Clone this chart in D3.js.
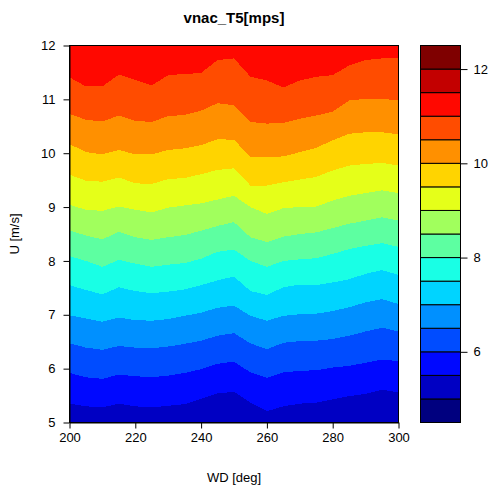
<!DOCTYPE html>
<html>
<head>
<meta charset="utf-8">
<script src="https://cdn.jsdelivr.net/npm/d3@7"></script>
<style>
  body { margin: 0; background: #fff; }
  svg { font-family: "Liberation Sans", Arial, Helvetica, sans-serif; }
</style>
</head>
<body>
<div id="chart"></div>
<script>
// wind direction columns [deg]
const wd = [200, 205, 210, 215, 220, 225, 230, 235, 240, 245, 250, 255, 260, 265, 270, 275, 280, 285, 290, 295, 300];

// U [m/s] where vnac crosses each contour level, one value per wd column
const u55  = [5.35, 5.30, 5.28, 5.35, 5.30, 5.28, 5.31, 5.34, 5.44, 5.54, 5.57, 5.37, 5.21, 5.30, 5.35, 5.37, 5.43, 5.49, 5.53, 5.61, 5.56];
const u60  = [5.92, 5.84, 5.81, 5.89, 5.86, 5.84, 5.87, 5.92, 5.99, 6.09, 6.13, 5.93, 5.83, 5.93, 5.96, 5.97, 6.02, 6.05, 6.11, 6.17, 6.14];
const u65  = [6.47, 6.39, 6.35, 6.42, 6.39, 6.38, 6.41, 6.46, 6.52, 6.61, 6.66, 6.47, 6.36, 6.48, 6.51, 6.52, 6.55, 6.61, 6.69, 6.76, 6.69];
const u70  = [6.99, 6.93, 6.87, 6.95, 6.90, 6.89, 6.92, 6.98, 7.04, 7.13, 7.17, 6.98, 6.89, 6.98, 7.01, 7.02, 7.07, 7.14, 7.23, 7.29, 7.20];
const u75  = [7.55, 7.46, 7.38, 7.51, 7.44, 7.40, 7.43, 7.47, 7.55, 7.64, 7.71, 7.44, 7.37, 7.51, 7.56, 7.55, 7.60, 7.66, 7.76, 7.83, 7.74];
const u80  = [8.09, 8.00, 7.89, 8.02, 7.95, 7.89, 7.93, 7.96, 8.04, 8.17, 8.21, 8.00, 7.89, 8.00, 8.03, 8.05, 8.13, 8.22, 8.28, 8.33, 8.26];
const u85  = [8.57, 8.47, 8.40, 8.54, 8.44, 8.39, 8.44, 8.48, 8.56, 8.65, 8.72, 8.44, 8.35, 8.45, 8.50, 8.53, 8.61, 8.69, 8.75, 8.81, 8.75];
const u90  = [9.04, 8.95, 8.93, 9.01, 8.95, 8.90, 8.99, 9.03, 9.07, 9.14, 9.21, 9.00, 8.87, 8.98, 9.00, 9.01, 9.12, 9.21, 9.26, 9.31, 9.26];
const u95  = [9.60, 9.49, 9.47, 9.55, 9.44, 9.43, 9.52, 9.54, 9.61, 9.69, 9.72, 9.40, 9.40, 9.46, 9.51, 9.56, 9.68, 9.77, 9.80, 9.82, 9.77];
const u100 = [10.17, 10.02, 9.98, 10.06, 9.98, 9.98, 10.06, 10.09, 10.15, 10.26, 10.25, 9.93, 9.93, 9.94, 10.02, 10.10, 10.24, 10.36, 10.39, 10.39, 10.35];
const u105 = [10.73, 10.62, 10.59, 10.70, 10.60, 10.58, 10.69, 10.71, 10.79, 10.93, 10.89, 10.58, 10.55, 10.56, 10.64, 10.70, 10.77, 10.98, 11.01, 11.01, 10.98];
const u110 = [11.41, 11.24, 11.24, 11.46, 11.36, 11.26, 11.45, 11.47, 11.49, 11.73, 11.76, 11.42, 11.35, 11.22, 11.35, 11.42, 11.45, 11.63, 11.73, 11.76, 11.76];

// contour levels of the lines above, in the same order
const lineLevels = [5.5, 6, 6.5, 7, 7.5, 8, 8.5, 9, 9.5, 10, 10.5, 11];
const boundaries = [u55, u60, u65, u70, u75, u80, u85, u90, u95, u100, u105, u110];

// colour key levels and ticks
const keyLevels = [4.5, 5, 5.5, 6, 6.5, 7, 7.5, 8, 8.5, 9, 9.5, 10, 10.5, 11, 11.5, 12, 12.5];
const keyTicks = [6, 8, 10, 12];
const xTicks = [200, 220, 240, 260, 280, 300];
const yTicks = [5, 6, 7, 8, 9, 10, 11, 12];

const width = 495, height = 493;

// jet colour ramp, 16 colours like R's colorRampPalette
const jetAnchors = ["#00007F", "#0000FF", "#007FFF", "#00FFFF", "#7FFF7F", "#FFFF00", "#FF7F00", "#FF0000", "#7F0000"];
const ramp = d3.scaleLinear()
  .domain(jetAnchors.map((c, i) => i / (jetAnchors.length - 1)))
  .range(jetAnchors)
  .interpolate(d3.interpolateRgb);
const nCol = keyLevels.length - 1;
const colors = d3.range(nCol).map(i => ramp(i / (nCol - 1)));
const colorFor = lo => colors[keyLevels.indexOf(lo)];

const svg = d3.select("#chart").append("svg")
  .attr("width", width)
  .attr("height", height);

// scales
const x = d3.scaleLinear().domain([200, 300]).range([69.5, 398.5]);
const y = d3.scaleLinear().domain([5, 12]).range([422.5, 45.5]);

svg.append("clipPath").attr("id", "plotclip")
  .append("rect")
  .attr("x", x(200)).attr("y", y(12))
  .attr("width", x(300) - x(200)).attr("height", y(5) - y(12));

const plot = svg.append("g").attr("clip-path", "url(#plotclip)");

// lowest band fills the whole panel first
plot.append("rect")
  .attr("x", x(200)).attr("y", y(12))
  .attr("width", x(300) - x(200)).attr("height", y(5) - y(12))
  .attr("fill", colorFor(5));

// each level paints everything above its line
const area = d3.area()
  .x((d, i) => x(wd[i]))
  .y0(d => y(d))
  .y1(() => y(12) - 2);

boundaries.forEach((b, k) => {
  plot.append("path")
    .datum(b)
    .attr("d", area)
    .attr("fill", colorFor(lineLevels[k]))
    .attr("shape-rendering", "crispEdges");
});

// axes
const xAxis = svg.append("g")
  .attr("transform", `translate(0,${y(5)})`)
  .call(d3.axisBottom(x).tickValues(xTicks).tickFormat(d3.format("d"))
    .tickSize(6).tickSizeOuter(0).tickPadding(4));
const yAxis = svg.append("g")
  .attr("transform", `translate(${x(200)},0)`)
  .call(d3.axisLeft(y).tickValues(yTicks).tickFormat(d3.format("d"))
    .tickSize(6).tickSizeOuter(0).tickPadding(8));

[xAxis, yAxis].forEach(g => {
  g.selectAll("text").attr("font-size", "13px").attr("fill", "#000").attr("font-family", null);
  g.selectAll("line").attr("stroke", "#000");
  g.select(".domain").attr("stroke", "#000");
});

// box round the panel
svg.append("rect")
  .attr("x", x(200)).attr("y", y(12))
  .attr("width", x(300) - x(200)).attr("height", y(5) - y(12))
  .attr("fill", "none").attr("stroke", "#000");

// colour key
const ky = d3.scaleLinear().domain([4.5, 12.5]).range([422.5, 45.5]);
const keyX = 420.5, keyW = 40;

svg.selectAll(".key")
  .data(d3.pairs(keyLevels))
  .enter()
  .append("rect")
  .attr("class", "key")
  .attr("x", keyX)
  .attr("y", d => ky(d[1]))
  .attr("width", keyW)
  .attr("height", d => ky(d[0]) - ky(d[1]))
  .attr("fill", d => colorFor(d[0]))
  .attr("stroke", "#000");

const kAxis = svg.append("g")
  .attr("transform", `translate(${keyX + keyW},0)`)
  .call(d3.axisRight(ky).tickValues(keyTicks).tickFormat(d3.format("d"))
    .tickSize(7).tickSizeOuter(0).tickPadding(6));
kAxis.selectAll("text").attr("font-size", "13px").attr("fill", "#000").attr("font-family", null);
kAxis.selectAll("line").attr("stroke", "#000");
kAxis.select(".domain").remove();

// titles
svg.append("text")
  .attr("x", (x(200) + x(300)) / 2)
  .attr("y", 23)
  .attr("text-anchor", "middle")
  .attr("font-size", "15px")
  .attr("font-weight", "bold")
  .text("vnac_T5[mps]");

svg.append("text")
  .attr("x", (x(200) + x(300)) / 2)
  .attr("y", 482)
  .attr("text-anchor", "middle")
  .attr("font-size", "13px")
  .text("WD [deg]");

svg.append("text")
  .attr("transform", `translate(19,${(y(5) + y(12)) / 2}) rotate(-90)`)
  .attr("text-anchor", "middle")
  .attr("font-size", "13px")
  .text("U [m/s]");
</script>
</body>
</html>
